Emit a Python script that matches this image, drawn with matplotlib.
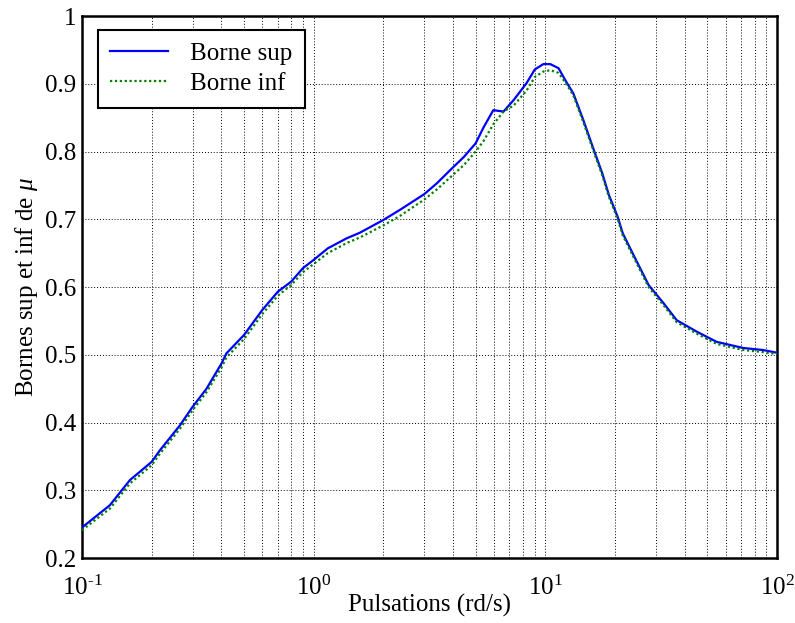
import matplotlib
matplotlib.use("Agg")
import matplotlib.pyplot as plt
from matplotlib import ticker

plt.rcParams['font.family'] = ['Liberation Serif', 'DejaVu Serif']
plt.rcParams['mathtext.fontset'] = 'custom'
plt.rcParams['mathtext.rm'] = 'Liberation Serif'
plt.rcParams['mathtext.it'] = 'Liberation Serif:italic'

pulsations = [0.1, 0.132, 0.161, 0.2, 0.217, 0.265, 0.3, 0.345, 0.4, 0.42, 0.5, 0.6,
              0.7, 0.8, 0.9, 1.0, 1.15, 1.39, 1.58, 2.0, 2.36, 3.0, 3.4, 3.95, 4.45,
              5.0, 5.4, 5.96, 6.6, 7.3, 8.3, 9.0, 9.8, 10.5, 11.4, 12.3, 13.2, 14.6,
              16.2, 17.6, 18.8, 20.5, 21.6, 24.2, 27.9, 32.4, 36.9, 45.1, 54.9, 71.5,
              87.0, 100.0]
borne_sup = [0.245, 0.278, 0.315, 0.342, 0.359, 0.396, 0.423, 0.450, 0.487, 0.502, 0.529,
             0.566, 0.593, 0.608, 0.628, 0.640, 0.657, 0.672, 0.680, 0.699, 0.714, 0.737,
             0.753, 0.775, 0.792, 0.812, 0.835, 0.861, 0.859, 0.876, 0.901, 0.921, 0.929,
             0.929, 0.923, 0.903, 0.886, 0.846, 0.802, 0.768, 0.736, 0.704, 0.679, 0.645,
             0.603, 0.576, 0.551, 0.534, 0.519, 0.510, 0.507, 0.503]
borne_inf = [0.241, 0.273, 0.310, 0.337, 0.354, 0.391, 0.418, 0.445, 0.481, 0.496, 0.523,
             0.560, 0.587, 0.603, 0.622, 0.634, 0.650, 0.665, 0.673, 0.691, 0.705, 0.729,
             0.744, 0.764, 0.780, 0.800, 0.815, 0.840, 0.859, 0.868, 0.890, 0.910, 0.918,
             0.920, 0.916, 0.900, 0.883, 0.843, 0.799, 0.765, 0.733, 0.701, 0.676, 0.642,
             0.600, 0.573, 0.548, 0.531, 0.516, 0.507, 0.504, 0.501]

yticks = [0.2, 0.3, 0.4, 0.5, 0.6, 0.7, 0.8, 0.9, 1.0]
ytick_labels = ['0.2', '0.3', '0.4', '0.5', '0.6', '0.7', '0.8', '0.9', '1']
xticks = [0.1, 1, 10, 100]
xtick_labels = [r'$10^{\text{-}1}$', r'$10^{0}$', r'$10^{1}$', r'$10^{2}$']

fig = plt.figure(figsize=(7.95, 6.23), dpi=100)
ax = fig.add_axes([0.1031, 0.1043, 0.8743, 0.8700])

ax.plot(pulsations, borne_sup, color='#0000ff', lw=1.6, label='Borne sup', zorder=3)
ax.plot(pulsations, borne_inf, color='#008000', lw=1.6, ls=(0, (1, 1.2)),
        label='Borne inf', zorder=3)

ax.set_xscale('log')
ax.set_xlim(0.1, 100)
ax.set_ylim(0.2, 1.0)
ax.set_yticks(yticks)
ax.set_yticklabels(ytick_labels)
ax.set_xticks(xticks)
ax.set_xticklabels(xtick_labels)
ax.xaxis.set_minor_locator(ticker.LogLocator(base=10, subs=range(2, 10)))
ax.xaxis.set_minor_formatter(ticker.NullFormatter())

ax.tick_params(axis='both', which='both', length=0, labelsize=18)
ax.tick_params(axis='x', pad=13)
ax.tick_params(axis='y', pad=4)

ax.grid(True, which='major', axis='both', color='black', ls=(0, (1, 2)), lw=0.7)
ax.grid(True, which='minor', axis='x', color='black', ls=(0, (1, 2)), lw=0.7)

for s in ax.spines.values():
    s.set_linewidth(1.8)

ax.set_xlabel('Pulsations (rd/s)', fontsize=18, labelpad=-5)
ax.set_ylabel(r'Bornes sup et inf de $\mu$', fontsize=18, labelpad=4)

leg = ax.legend(loc='upper left', fontsize=18, fancybox=False, framealpha=1,
                edgecolor='black', borderpad=0.5, handlelength=2.3, labelspacing=0.3,
                handletextpad=0.9, bbox_to_anchor=(0.005, 0.997))
leg.get_frame().set_linewidth(1.5)

fig.text(0.762, 0.997, '_', fontsize=14, ha='left', va='top')

fig.savefig('out.png', dpi=100)
